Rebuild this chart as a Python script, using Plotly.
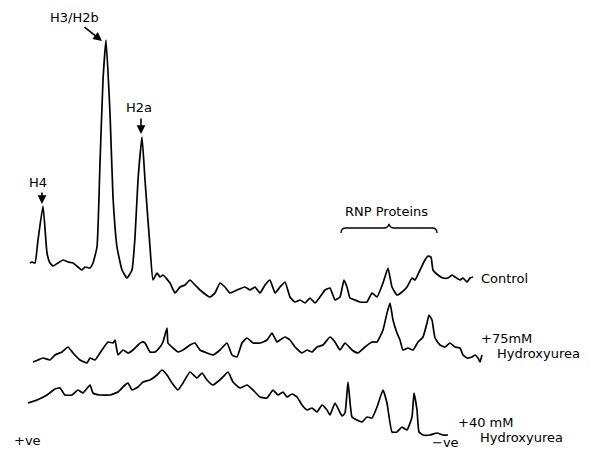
import plotly.graph_objects as go

# Densitometer scans: position along gel (x) and trace level (y, drawn downward)
control_x = [30, 32, 35, 38, 43, 47, 50, 53, 58, 63, 68, 73, 78, 82, 85, 90, 93, 97, 100, 103, 106, 110, 113, 117, 122, 127, 132,
             135, 138, 142, 145, 150, 153, 157, 160, 163, 170, 175, 180, 185, 190, 195, 200, 210, 215, 220, 225, 230, 237, 245,
             250, 255, 260, 265, 270, 275, 280, 285, 290, 295, 300, 305, 310, 315, 320, 325, 330, 335, 340, 344, 347, 350, 355,
             360, 367, 372, 377, 383, 388, 392, 397, 402, 407, 412, 415, 420, 425, 428, 431, 433, 438, 443, 448, 452, 455, 460,
             463, 467, 470, 473]
control_y = [263, 262, 263, 240, 206, 253, 263, 266, 263, 260, 262, 263, 267, 270, 267, 268, 263, 247, 163, 80, 40, 113, 197, 247, 270,
             278, 270, 237, 180, 137, 180, 247, 280, 273, 277, 275, 283, 293, 287, 285, 280, 285, 290, 297, 293, 283, 287, 293,
             290, 287, 290, 287, 293, 285, 280, 293, 287, 282, 297, 302, 300, 303, 298, 303, 297, 290, 288, 300, 297, 280, 287,
             298, 300, 302, 302, 293, 297, 283, 268, 287, 295, 292, 287, 278, 280, 270, 260, 256, 257, 270, 275, 278, 278, 275,
             277, 280, 278, 282, 278, 277]

hu75_x = [33, 38, 43, 50, 55, 62, 68, 73, 80, 87, 90, 95, 100, 108, 113, 115, 118, 123, 128, 133, 138, 142, 145, 150, 155, 160, 163,
          167, 168, 173, 178, 183, 190, 195, 200, 207, 213, 220, 227, 232, 237, 242, 247, 253, 260, 267, 272, 277, 280, 285, 290,
          295, 302, 307, 312, 317, 323, 330, 335, 340, 345, 352, 358, 365, 372, 377, 383, 387, 390, 393, 397, 400, 403, 408, 413,
          418, 423, 427, 429, 432, 435, 440, 445, 450, 455, 460, 463, 467, 472, 475, 478, 480, 482]
hu75_y = [362, 360, 358, 360, 355, 352, 347, 353, 360, 363, 358, 360, 353, 342, 343, 340, 355, 350, 353, 350, 345, 342, 343, 352, 352, 347, 342,
          328, 343, 348, 352, 350, 345, 343, 350, 353, 355, 350, 343, 355, 357, 343, 338, 343, 343, 340, 333, 342, 340, 337, 340,
          347, 353, 350, 352, 347, 345, 337, 342, 350, 343, 350, 353, 347, 342, 342, 330, 313, 303, 320, 333, 340, 350, 348, 350,
          342, 337, 323, 315, 320, 338, 345, 347, 343, 347, 348, 355, 358, 357, 355, 358, 362, 355]

hu40_x = [28, 37, 47, 55, 60, 65, 72, 78, 83, 90, 93, 100, 110, 118, 125, 128, 132, 138, 143, 150, 157, 162, 167, 172, 178, 183, 190,
          197, 202, 207, 213, 222, 228, 233, 240, 247, 253, 260, 267, 273, 278, 283, 287, 292, 297, 302, 307, 312, 317, 322, 327,
          330, 335, 342, 345, 348, 352, 357, 362, 367, 372, 377, 383, 387, 392, 397, 402, 407, 412, 414, 417, 419, 423,
          430, 437, 443, 448]
hu40_y = [403, 400, 395, 389, 388, 395, 395, 390, 393, 385, 393, 395, 395, 392, 385, 383, 390, 387, 382, 380, 375, 370, 375, 383, 390, 383, 372,
          378, 373, 380, 385, 378, 372, 382, 388, 385, 390, 397, 398, 390, 395, 392, 397, 394, 397, 405, 410, 408, 412, 405, 410,
          415, 403, 416, 413, 382, 417, 420, 422, 417, 418, 407, 390, 403, 432, 432, 427, 430, 417, 393, 410, 432, 435,
          435, 433, 435, 435]

fig = go.Figure()
for xs, ys in [(control_x, control_y), (hu75_x, hu75_y), (hu40_x, hu40_y)]:
    fig.add_trace(go.Scatter(x=xs, y=ys, mode="lines", line=dict(color="black", width=1.7, shape="spline", smoothing=0.4),
                             hoverinfo="skip", showlegend=False))

font = dict(family="DejaVu Sans, Arial, sans-serif", size=13, color="black")
arrow = dict(text="", showarrow=True, arrowhead=2, arrowsize=1.1, arrowwidth=1.6, arrowcolor="black")
anns = [
    dict(x=42, y=204, ax=42, ay=191, **arrow),
    dict(x=38, y=182, text="H4", showarrow=False),
    dict(x=102, y=41, ax=83, ay=26, **arrow),
    dict(x=74, y=17, text="H3/H2b", showarrow=False),
    dict(x=141, y=134, ax=141, ay=117, **arrow),
    dict(x=139, y=107, text="H2a", showarrow=False),
    dict(x=386, y=211, text="RNP Proteins", showarrow=False),
    dict(x=479, y=278, text="Control", showarrow=False, xanchor="left"),
    dict(x=479, y=338, text="+75mM", showarrow=False, xanchor="left"),
    dict(x=495, y=353, text="Hydroxyurea", showarrow=False, xanchor="left"),
    dict(x=456, y=422, text="+40 mM", showarrow=False, xanchor="left"),
    dict(x=478, y=437, text="Hydroxyurea", showarrow=False, xanchor="left"),
    dict(x=12, y=440, text="+ve", showarrow=False, xanchor="left"),
    dict(x=430, y=442, text="\u2212ve", showarrow=False, xanchor="left"),
]
for a in anns:
    a.update(xref="x", yref="y", axref="x", ayref="y", font=font)
fig.update_layout(annotations=anns)

fig.add_shape(type="path", xref="x", yref="y",
              path="M 341 233 Q 341 228 346 228 L 384 228 Q 388 228 389 224 Q 390 228 394 228 L 432 228 Q 437 228 437 233",
              line=dict(color="black", width=1.3))

fig.update_layout(
    width=589, height=451, margin=dict(l=0, r=0, t=0, b=0),
    paper_bgcolor="white", plot_bgcolor="white",
    xaxis=dict(range=[0, 589], visible=False, fixedrange=True),
    yaxis=dict(range=[451, 0], visible=False, fixedrange=True),
)
fig.write_html("out.html", config={"displayModeBar": False},
               post_script="document.body.style.margin='0';document.body.style.overflow='hidden';")
